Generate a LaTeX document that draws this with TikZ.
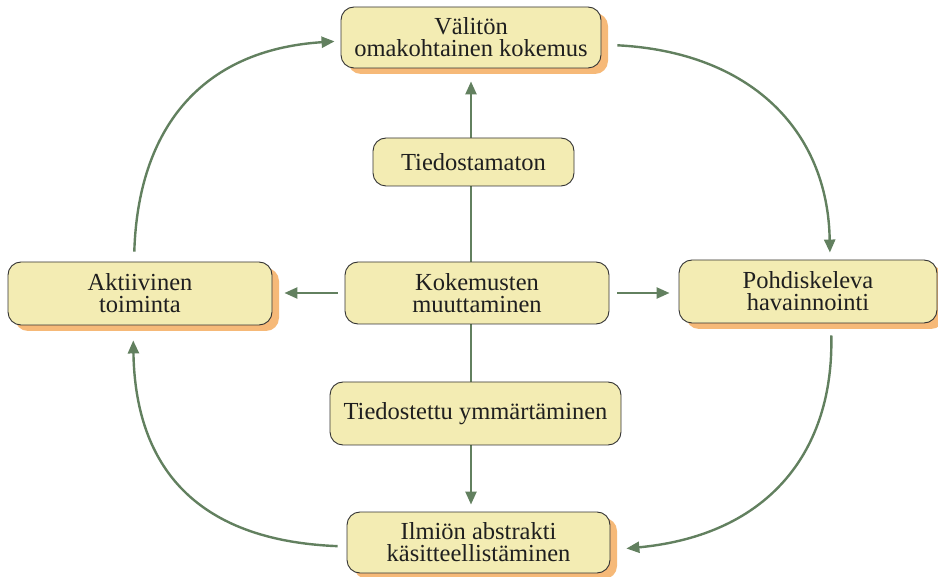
\documentclass[tikz,border=0pt]{standalone}
\usepackage{fontspec}
\setmainfont{Liberation Serif}
\usetikzlibrary{arrows.meta,shadows,backgrounds}
\definecolor{boxfill}{HTML}{F3ECB3}
\definecolor{shadowc}{HTML}{F6B978}
\definecolor{arrowc}{HTML}{62805F}
\definecolor{borderc}{HTML}{333333}
\begin{document}
\begin{tikzpicture}[x=1pt,y=-1pt,
  box/.style={draw=borderc, line width=0.9pt, fill=boxfill, rounded corners=13pt, inner sep=0pt, align=center, font=\fontsize{24.5}{22}\selectfont, text=black!88},
  shad/.style={drop shadow={shadow xshift=7pt, shadow yshift=-6pt, fill=shadowc, opacity=1}},
  arr/.style={draw=arrowc, line width=2.4pt, -{Triangle[length=13pt,width=11pt]}},
]
\useasboundingbox (0,0) rectangle (938,577);
\node[box,shad,minimum width=260pt,minimum height=61pt] (top) at (471,37.5) {Välitön\\omakohtainen kokemus};
\node[box,shad,minimum width=264pt,minimum height=63pt] (left) at (140,293.5) {Aktiivinen\\toiminta};
\node[box,minimum width=264pt,minimum height=62pt] (center) at (477,293) {Kokemusten\\muuttaminen};
\node[box,shad,minimum width=258pt,minimum height=63pt] (right) at (808,291.5) {Pohdiskeleva\\havainnointi};
\node[box,minimum width=201pt,minimum height=48pt] (tdm) at (473.5,162) {Tiedostamaton};
\node[box,minimum width=291pt,minimum height=63pt] (tdt) at (475.5,413.5) {Tiedostettu ymmärtäminen};
\node[box,shad,minimum width=263pt,minimum height=61pt] (bottom) at (478.5,542.5) {Ilmiön abstrakti\\käsitteellistäminen};
\begin{scope}[on background layer]
\draw[arr,shorten >=13pt] (top.south |- center.north) -- (top.south);
\draw[arr,shorten >=7pt] (top.south |- center.south) -- (top.south |- bottom.north);
\draw[arr,shorten <=7pt,shorten >=12pt] (center.west) -- (center.west -| left.east);
\draw[arr,shorten <=8pt,shorten >=9pt] (center.east) -- (center.east -| right.west);
\draw[arr,shorten <=10pt,shorten >=6pt] ([xshift=-6pt]left.north) .. controls (138,130) and (200,50) .. ([yshift=-3.5pt]top.west);
\draw[arr,shorten <=16pt,shorten >=7pt] ([yshift=-7pt]top.east) .. controls (750,52) and (828,130) .. ([xshift=22pt]right.north);
\draw[arr,shorten <=12pt,shorten >=16pt] ([xshift=23pt]right.south) .. controls (834,450) and (770,535) .. ([yshift=-7.5pt]bottom.east);
\draw[arr,shorten <=9pt,shorten >=15pt] ([yshift=-4pt]bottom.west) .. controls (180,540) and (135,450) .. ([xshift=-7pt]left.south);
\end{scope}
\end{tikzpicture}
\end{document}
